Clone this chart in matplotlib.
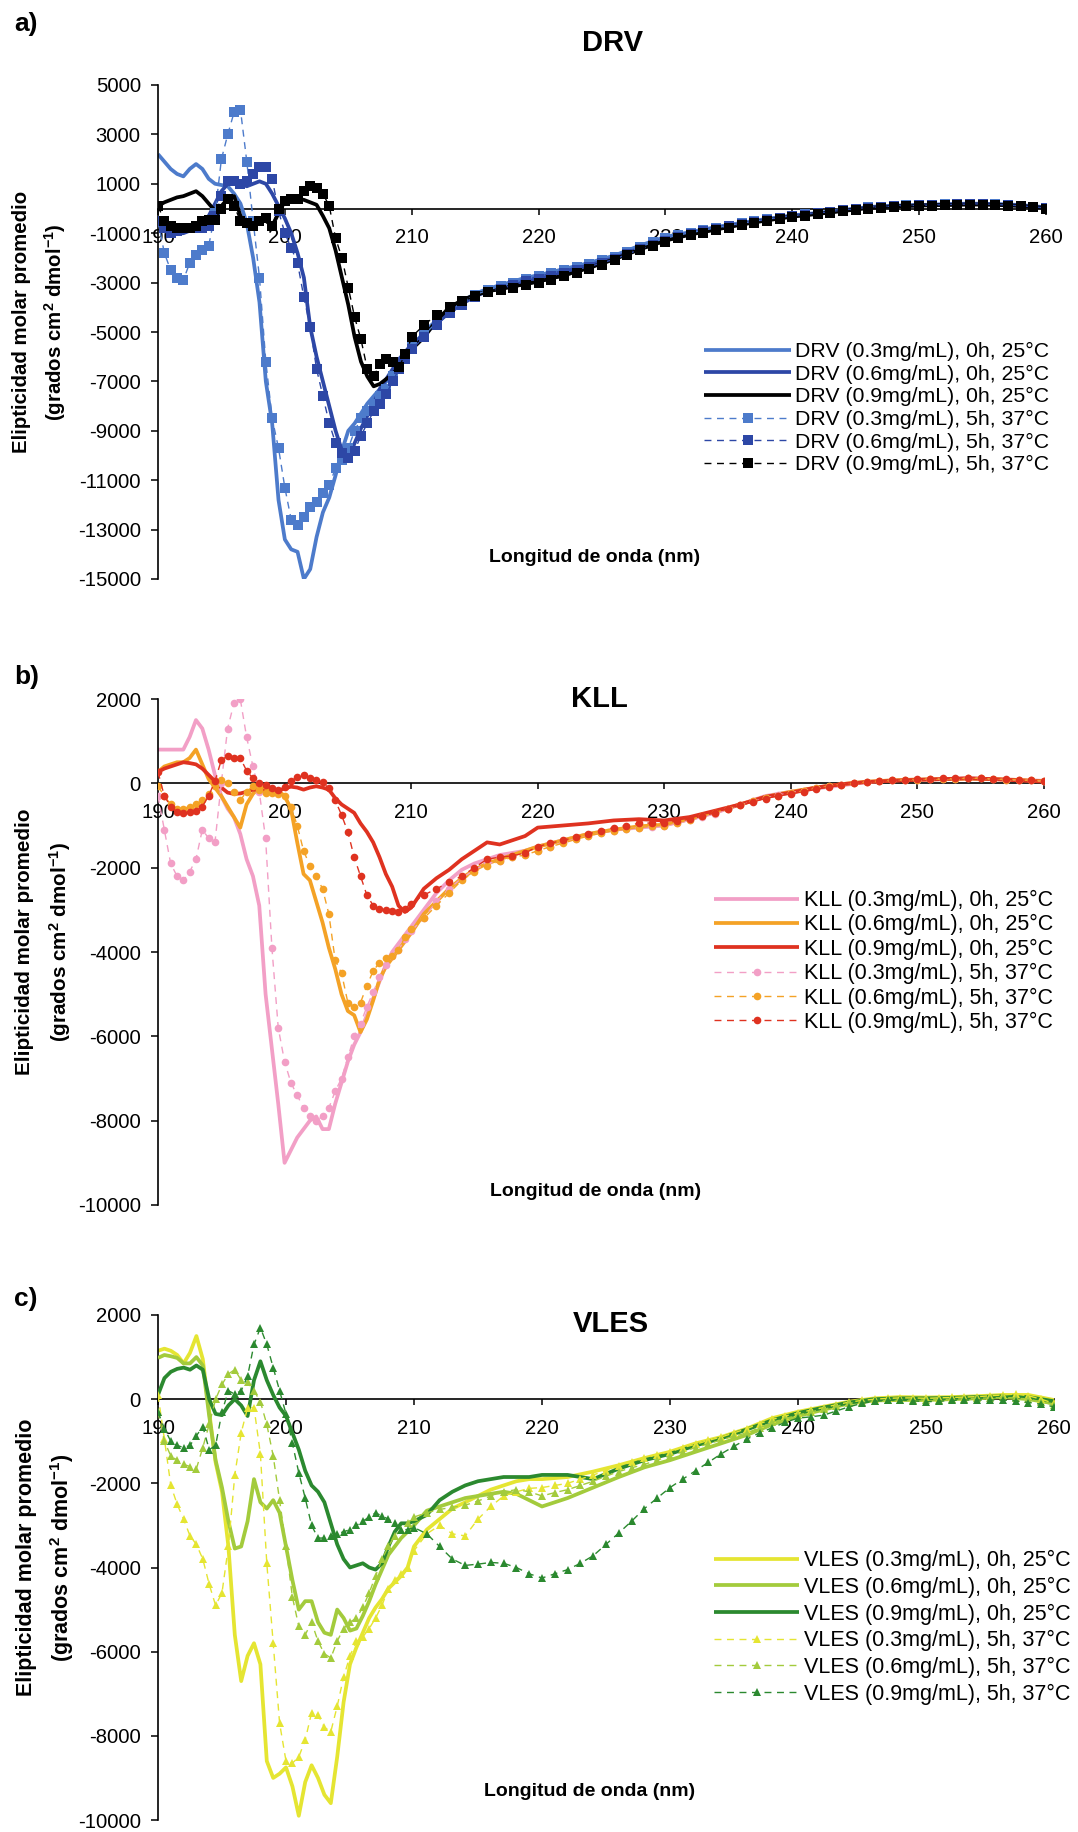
import matplotlib
matplotlib.use('Agg')
import matplotlib.pyplot as plt
import numpy as np

plt.rcParams['font.family'] = ['Liberation Sans', 'DejaVu Sans']
plt.rcParams['mathtext.fontset'] = 'custom'
plt.rcParams['mathtext.rm'] = 'Liberation Sans'
plt.rcParams['mathtext.bf'] = 'Liberation Sans:bold'
plt.rcParams['mathtext.default'] = 'bf'
plt.rcParams['axes.unicode_minus'] = False

# ---------------- data (ellipticity in units of 1000 grados cm2 dmol-1) ----------------
UNIT = 1000
# wavelengths of the 0h (solid) readings
wavelength_0h = [190, 190.5, 191, 191.5, 192, 192.5, 193, 193.5, 194, 194.5,
                 195, 195.5, 196, 196.5, 197, 197.5, 198, 198.5, 199, 199.5,
                 200, 200.5, 201, 201.5, 202, 202.5, 203, 203.5, 204, 204.5,
                 205, 205.5, 206, 206.5, 207, 207.5, 208, 208.5, 209, 209.5,
                 210,
                 211, 212, 213, 214, 215, 216, 217, 218, 219, 220,
                 222, 224, 226, 228, 230, 232, 234, 236, 238, 240,
                 242, 244, 246, 248, 250, 252, 254, 256, 258, 260]
# wavelengths of the 5h (dashed, with markers) readings
wavelength_5h = [190, 190.5, 191, 191.5, 192, 192.5, 193, 193.5, 194, 194.5,
                 195, 195.5, 196, 196.5, 197, 197.5, 198, 198.5, 199, 199.5,
                 200, 200.5, 201, 201.5, 202, 202.5, 203, 203.5, 204, 204.5,
                 205, 205.5, 206, 206.5, 207, 207.5, 208, 208.5, 209, 209.5,
                 210,
                 211, 212, 213, 214, 215, 216, 217, 218, 219, 220,
                 221, 222, 223, 224, 225, 226, 227, 228, 229, 230,
                 231, 232, 233, 234, 235, 236, 237, 238, 239, 240,
                 241, 242, 243, 244, 245, 246, 247, 248, 249, 250,
                 251, 252, 253, 254, 255, 256, 257, 258, 259, 260]

# DRV
drv_03_0h = [2.2, 1.9, 1.6, 1.4, 1.3, 1.6, 1.8, 1.6, 1.2, 1.0,
             0.95, 0.9, 0.6, 0.2, -0.6, -2.0, -3.8, -7.0, -8.7, -11.8,
             -13.4, -13.8, -13.9, -15.0, -14.6, -13.3, -12.3, -11.7, -10.8, -9.8,
             -9.0, -8.7, -8.3, -7.9, -7.6, -7.3, -7.0, -6.6, -6.3, -5.9,
             -5.6,
             -5.0, -4.5, -4.1, -3.75, -3.45, -3.25, -3.1, -2.95, -2.8, -2.7,
             -2.45, -2.2, -1.9, -1.5, -1.15, -0.95, -0.75, -0.58, -0.42, -0.28,
             -0.18, -0.06, 0.06, 0.12, 0.14, 0.17, 0.2, 0.18, 0.14, 0.05]
drv_06_0h = [-0.6, -0.9, -1.0, -1.0, -1.0, -0.9, -0.8, -0.6, -0.3, 0.2,
             0.7, 1.0, 1.1, 1.0, 0.9, 1.0, 1.1, 1.0, 0.6, 0.1,
             -0.4, -1.0, -1.8, -2.8, -4.8, -6.0, -7.0, -8.0, -9.0, -9.8,
             -10.1, -9.5, -8.9, -8.4, -7.9, -7.3, -6.9, -6.5, -6.1, -5.8,
             -5.5,
             -5.1, -4.6, -4.2, -3.85, -3.55, -3.35, -3.2, -3.05, -2.9, -2.8,
             -2.55, -2.3, -2.0, -1.6, -1.25, -1.0, -0.8, -0.62, -0.45, -0.3,
             -0.2, -0.08, 0.04, 0.1, 0.13, 0.16, 0.18, 0.17, 0.12, 0.02]
drv_09_0h = [0.1, 0.25, 0.35, 0.45, 0.5, 0.6, 0.7, 0.5, 0.2, -0.1,
             0.1, 0.4, 0.5, -0.3, -0.7, -0.6, -0.4, -0.5, -0.7, -0.2,
             0.3, 0.45, 0.4, 0.35, 0.25, 0.15, -0.3, -0.8, -1.7, -2.8,
             -3.9, -5.2, -6.2, -6.8, -7.2, -7.1, -6.9, -6.7, -6.4, -6.0,
             -5.7,
             -5.2, -4.5, -4.0, -3.7, -3.5, -3.35, -3.25, -3.15, -3.05, -2.95,
             -2.7, -2.4, -2.05, -1.65, -1.3, -1.05, -0.85, -0.65, -0.48, -0.33,
             -0.22, -0.1, 0.02, 0.08, 0.12, 0.14, 0.16, 0.15, 0.1, 0.02]
drv_03_5h = [-0.5, -1.8, -2.5, -2.8, -2.9, -2.2, -1.9, -1.7, -1.5, -0.2,
             2.0, 3.0, 3.9, 4.0, 1.9, -0.5, -2.8, -6.2, -8.5, -9.7,
             -11.3, -12.6, -12.8, -12.5, -12.1, -11.9, -11.5, -11.2, -10.5, -10.2,
             -9.7, -9.0, -8.5, -8.2, -7.9, -7.6, -7.3, -6.8, -6.4, -6.0,
             -5.6,
             -5.1, -4.6, -4.15, -3.8, -3.5, -3.3, -3.15, -3.0, -2.85, -2.75,
             -2.62, -2.5, -2.38, -2.25, -2.1, -1.95, -1.75, -1.55, -1.37, -1.2,
             -1.08, -0.98, -0.88, -0.78, -0.69, -0.6, -0.52, -0.44, -0.37, -0.3,
             -0.24, -0.19, -0.13, -0.07, -0.01, 0.05, 0.08, 0.11, 0.13, 0.14,
             0.15, 0.17, 0.18, 0.19, 0.2, 0.17, 0.15, 0.12, 0.08, 0.03]
drv_06_5h = [-0.5, -0.8, -1.0, -0.9, -0.8, -0.8, -0.8, -0.8, -0.7, -0.3,
             0.5, 1.1, 1.1, 1.0, 1.1, 1.4, 1.7, 1.7, 1.2, -0.1,
             -1.0, -1.6, -2.2, -3.6, -4.8, -6.5, -7.6, -8.7, -9.5, -9.9,
             -10.1, -9.8, -9.2, -8.7, -8.2, -7.9, -7.5, -7.0, -6.5, -6.1,
             -5.7,
             -5.2, -4.7, -4.25, -3.9, -3.6, -3.4, -3.25, -3.1, -2.95, -2.85,
             -2.72, -2.6, -2.48, -2.35, -2.2, -2.05, -1.85, -1.65, -1.47, -1.3,
             -1.15, -1.02, -0.92, -0.82, -0.72, -0.63, -0.54, -0.46, -0.38, -0.31,
             -0.25, -0.2, -0.14, -0.08, -0.02, 0.04, 0.07, 0.1, 0.12, 0.13,
             0.14, 0.16, 0.17, 0.18, 0.19, 0.16, 0.14, 0.11, 0.07, 0.02]
drv_09_5h = [0.1, -0.5, -0.7, -0.8, -0.8, -0.8, -0.7, -0.5, -0.45, -0.45,
             0.0, 0.4, 0.1, -0.5, -0.6, -0.7, -0.5, -0.4, -0.7, 0.0,
             0.3, 0.4, 0.4, 0.7, 0.9, 0.85, 0.6, 0.1, -1.2, -2.0,
             -3.2, -4.4, -5.3, -6.5, -6.8, -6.3, -6.1, -6.2, -6.4, -5.9,
             -5.2,
             -4.7, -4.3, -4.0, -3.75, -3.55, -3.4, -3.3, -3.2, -3.1, -3.0,
             -2.88, -2.75, -2.6, -2.45, -2.28, -2.1, -1.9, -1.7, -1.52, -1.35,
             -1.2, -1.08, -0.98, -0.88, -0.78, -0.68, -0.59, -0.5, -0.42, -0.35,
             -0.29, -0.24, -0.18, -0.12, -0.06, 0.0, 0.04, 0.07, 0.09, 0.11,
             0.12, 0.13, 0.14, 0.15, 0.16, 0.14, 0.12, 0.09, 0.05, 0.0]

# KLL
kll_03_0h = [0.8, 0.8, 0.8, 0.8, 0.8, 1.1, 1.5, 1.3, 0.8, 0.2,
             -0.3, -0.6, -0.8, -1.2, -1.8, -2.2, -2.9, -5.0, -6.3, -7.6,
             -9.0, -8.7, -8.4, -8.2, -8.0, -7.9, -8.2, -8.2, -7.6, -7.1,
             -6.6, -6.2, -5.9, -5.5, -5.1, -4.7, -4.3, -4.0, -3.8, -3.6,
             -3.4,
             -3.0, -2.6, -2.3, -2.05, -1.9, -1.8, -1.7, -1.65, -1.6, -1.5,
             -1.35, -1.2, -1.1, -1.05, -1.0, -0.85, -0.7, -0.5, -0.3, -0.2,
             -0.12, -0.05, 0.03, 0.07, 0.09, 0.1, 0.12, 0.1, 0.08, 0.06]
kll_06_0h = [0.27, 0.4, 0.45, 0.5, 0.5, 0.6, 0.8, 0.45, 0.1, -0.1,
             -0.3, -0.55, -0.8, -1.05, -0.5, -0.25, -0.1, -0.12, -0.15, -0.18,
             -0.3, -0.6, -1.4, -2.15, -2.3, -2.8, -3.3, -3.9, -4.4, -5.0,
             -5.4, -5.5, -5.9, -5.6, -5.15, -4.65, -4.35, -4.15, -3.95, -3.75,
             -3.55,
             -3.1, -2.8, -2.5, -2.25, -2.05, -1.9, -1.8, -1.7, -1.6, -1.5,
             -1.35, -1.2, -1.1, -1.02, -0.98, -0.85, -0.68, -0.5, -0.32, -0.2,
             -0.1, -0.02, 0.04, 0.07, 0.09, 0.1, 0.11, 0.1, 0.08, 0.05]
kll_09_0h = [0.27, 0.35, 0.4, 0.45, 0.5, 0.48, 0.45, 0.35, 0.2, 0.05,
             -0.1, -0.22, -0.25, -0.24, -0.2, -0.15, -0.15, -0.2, -0.24, -0.18,
             -0.12, -0.08, -0.1, -0.15, -0.1, -0.07, -0.1, -0.15, -0.35, -0.5,
             -0.6, -0.7, -0.95, -1.15, -1.4, -1.75, -2.15, -2.45, -2.9, -3.05,
             -2.95,
             -2.5, -2.25, -2.05, -1.8, -1.6, -1.4, -1.45, -1.35, -1.25, -1.05,
             -1.0, -0.95, -0.88, -0.85, -0.88, -0.8, -0.65, -0.5, -0.32, -0.22,
             -0.1, -0.02, 0.03, 0.06, 0.08, 0.1, 0.12, 0.1, 0.07, 0.04]
kll_03_5h = [-0.3, -1.1, -1.9, -2.2, -2.3, -2.1, -1.8, -1.1, -1.3, -1.4,
             0.0, 1.3, 1.9, 2.0, 1.1, 0.4, -0.2, -1.3, -3.9, -5.8,
             -6.6, -7.1, -7.4, -7.7, -7.9, -8.0, -7.9, -7.7, -7.3, -7.0,
             -6.5, -6.0, -5.7, -5.3, -4.95, -4.6, -4.3, -4.1, -3.95, -3.7,
             -3.5,
             -3.2, -2.8, -2.5, -2.25, -2.05, -1.9, -1.85, -1.75, -1.7, -1.6,
             -1.5, -1.4, -1.32, -1.25, -1.18, -1.12, -1.08, -1.05, -1.03, -1.02,
             -0.95, -0.88, -0.8, -0.72, -0.62, -0.52, -0.43, -0.35, -0.28, -0.22,
             -0.17, -0.12, -0.07, -0.03, 0.0, 0.03, 0.05, 0.07, 0.08, 0.09,
             0.1, 0.1, 0.11, 0.12, 0.12, 0.1, 0.09, 0.08, 0.07, 0.05]
kll_06_5h = [-0.07, -0.3, -0.5, -0.6, -0.6, -0.55, -0.5, -0.4, -0.25, -0.07,
             0.08, 0.0, -0.2, -0.4, -0.2, -0.07, -0.15, -0.24, -0.24, -0.26,
             -0.3, -0.55, -1.0, -1.6, -1.95, -2.2, -2.5, -3.1, -4.2, -4.5,
             -5.2, -5.3, -5.2, -4.8, -4.45, -4.25, -4.15, -4.1, -3.95, -3.65,
             -3.45,
             -3.2, -2.9, -2.6, -2.3, -2.1, -1.95, -1.85, -1.75, -1.7, -1.6,
             -1.5, -1.42, -1.33, -1.25, -1.18, -1.12, -1.08, -1.05, -1.02, -1.0,
             -0.93, -0.87, -0.78, -0.7, -0.6, -0.52, -0.43, -0.35, -0.29, -0.24,
             -0.18, -0.12, -0.07, -0.03, 0.0, 0.03, 0.05, 0.07, 0.08, 0.09,
             0.1, 0.1, 0.11, 0.12, 0.12, 0.1, 0.09, 0.08, 0.07, 0.05]
kll_09_5h = [0.27, -0.3, -0.55, -0.68, -0.7, -0.68, -0.65, -0.55, -0.3, 0.05,
             0.55, 0.65, 0.6, 0.6, 0.3, 0.12, 0.0, -0.05, -0.12, -0.15,
             -0.08, 0.05, 0.15, 0.2, 0.12, 0.07, 0.02, -0.12, -0.4, -0.75,
             -1.15, -1.75, -2.2, -2.65, -2.9, -2.98, -3.0, -3.02, -3.05, -2.97,
             -2.85,
             -2.65, -2.5, -2.35, -2.2, -2.0, -1.8, -1.75, -1.72, -1.65, -1.5,
             -1.42, -1.35, -1.28, -1.2, -1.12, -1.05, -1.0, -0.95, -0.94, -0.93,
             -0.9, -0.85, -0.78, -0.7, -0.6, -0.52, -0.44, -0.36, -0.3, -0.25,
             -0.2, -0.14, -0.09, -0.04, 0.0, 0.03, 0.05, 0.07, 0.09, 0.1,
             0.11, 0.12, 0.12, 0.13, 0.13, 0.11, 0.1, 0.08, 0.07, 0.05]

# VLES
vles_03_0h = [1.15, 1.2, 1.15, 1.05, 0.85, 1.1, 1.5, 0.95, -0.3, -1.5,
              -2.2, -3.5, -5.6, -6.7, -6.1, -5.8, -6.3, -8.6, -9.0, -8.9,
              -8.75, -9.2, -9.9, -9.1, -8.7, -9.0, -9.4, -9.6, -8.5, -7.2,
              -6.3, -5.9, -5.55, -5.2, -4.95, -4.75, -4.5, -4.35, -4.2, -4.0,
              -3.5,
              -3.1, -2.85, -2.6, -2.45, -2.3, -2.15, -2.05, -1.95, -1.9, -1.9,
              -1.85, -1.72, -1.57, -1.4, -1.25, -1.05, -0.9, -0.7, -0.45, -0.3,
              -0.18, -0.06, 0.02, 0.05, 0.04, 0.05, 0.07, 0.1, 0.1, -0.02]
vles_06_0h = [0.98, 1.05, 1.02, 0.98, 0.85, 0.85, 1.0, 0.8, -0.4, -1.45,
              -2.1, -2.9, -3.55, -3.5, -2.9, -1.9, -2.45, -2.6, -2.4, -2.7,
              -3.5, -4.3, -5.0, -4.8, -4.8, -5.3, -5.55, -5.6, -5.0, -5.2,
              -5.5, -5.45, -5.15, -4.8, -4.4, -4.05, -3.7, -3.5, -3.3, -3.15,
              -3.0,
              -2.65, -2.55, -2.45, -2.35, -2.3, -2.25, -2.2, -2.25, -2.4, -2.55,
              -2.35, -2.1, -1.85, -1.62, -1.45, -1.25, -1.05, -0.85, -0.6, -0.4,
              -0.25, -0.1, -0.03, -0.02, -0.02, 0.0, 0.02, 0.05, 0.0, -0.1]
vles_09_0h = [0.1, 0.5, 0.65, 0.72, 0.75, 0.7, 0.8, 0.7, 0.0, -0.35,
              -0.38, -0.15, 0.0, -0.15, -0.4, 0.45, 0.9, 0.45, 0.1, -0.2,
              -0.4, -0.8, -1.2, -1.7, -2.05, -2.2, -2.45, -2.95, -3.45, -3.8,
              -4.0, -3.95, -3.9, -4.0, -4.05, -3.9, -3.5, -3.15, -2.95, -2.95,
              -2.9,
              -2.75, -2.4, -2.2, -2.05, -1.95, -1.9, -1.85, -1.85, -1.85, -1.8,
              -1.8, -1.9, -1.65, -1.45, -1.3, -1.1, -0.93, -0.72, -0.5, -0.33,
              -0.2, -0.08, 0.0, 0.02, 0.02, 0.03, 0.05, 0.07, 0.05, -0.05]
vles_03_5h = [0.1, -0.95, -2.05, -2.5, -2.85, -3.25, -3.45, -3.8, -4.4, -4.9,
              -4.6, -3.5, -1.8, -0.8, -0.2, -0.2, -1.3, -3.9, -5.8, -7.7,
              -8.6, -8.65, -8.5, -8.1, -7.45, -7.5, -7.8, -7.9, -7.3, -6.6,
              -6.1, -5.75, -5.65, -5.45, -5.2, -4.9, -4.5, -4.3, -4.15, -4.0,
              -3.6,
              -3.2, -3.0, -3.2, -3.25, -2.85, -2.55, -2.3, -2.2, -2.12, -2.1,
              -2.05, -2.0, -1.9, -1.8, -1.7, -1.58, -1.5, -1.4, -1.32, -1.25,
              -1.15, -1.07, -0.98, -0.9, -0.8, -0.7, -0.58, -0.48, -0.4, -0.33,
              -0.26, -0.2, -0.13, -0.07, -0.03, 0.0, 0.02, 0.03, 0.03, 0.02,
              0.03, 0.04, 0.05, 0.06, 0.08, 0.1, 0.12, 0.08, 0.0, -0.1]
vles_06_5h = [-0.3, -1.0, -1.35, -1.45, -1.55, -1.6, -1.65, -1.15, -0.6, 0.0,
              0.35, 0.6, 0.7, 0.45, 0.4, 0.2, -0.06, -0.6, -1.35, -2.4,
              -3.5, -4.7, -5.4, -5.6, -5.3, -5.75, -6.05, -6.15, -5.75, -5.45,
              -5.3, -5.2, -4.95, -4.6, -4.2, -3.8, -3.5, -3.25, -3.1, -2.95,
              -2.8,
              -2.7, -2.62, -2.57, -2.52, -2.42, -2.3, -2.2, -2.15, -2.2, -2.3,
              -2.22, -2.15, -2.05, -1.95, -1.83, -1.72, -1.63, -1.55, -1.45, -1.35,
              -1.25, -1.15, -1.06, -0.97, -0.88, -0.8, -0.68, -0.55, -0.46, -0.38,
              -0.3, -0.24, -0.17, -0.1, -0.06, -0.04, -0.03, -0.02, -0.02, -0.02,
              -0.01, 0.0, 0.01, 0.02, 0.03, 0.04, 0.03, 0.0, -0.06, -0.14]
vles_09_5h = [-0.3, -0.7, -1.0, -1.1, -1.15, -1.1, -0.87, -0.65, -1.2, -1.1,
              -0.3, 0.2, 0.12, 0.2, 0.55, 1.3, 1.7, 1.3, 0.75, 0.2,
              -0.35, -1.05, -1.75, -2.35, -3.0, -3.3, -3.3, -3.25, -3.2, -3.15,
              -3.1, -3.0, -2.9, -2.8, -2.7, -2.78, -2.85, -2.95, -3.1, -3.1,
              -3.05,
              -3.2, -3.5, -3.8, -3.95, -3.92, -3.88, -3.9, -4.0, -4.15, -4.25,
              -4.15, -4.05, -3.9, -3.72, -3.45, -3.18, -2.9, -2.6, -2.35, -2.1,
              -1.9, -1.7, -1.5, -1.3, -1.12, -0.95, -0.8, -0.68, -0.55, -0.45,
              -0.42, -0.38, -0.28, -0.18, -0.1, -0.05, -0.03, -0.02, -0.04, -0.06,
              -0.05, -0.03, -0.02, -0.02, -0.02, -0.02, -0.04, -0.08, -0.12, -0.18]

conditions = ['(0.3mg/mL), 0h, 25\u00b0C', '(0.6mg/mL), 0h, 25\u00b0C', '(0.9mg/mL), 0h, 25\u00b0C',
              '(0.3mg/mL), 5h, 37\u00b0C', '(0.6mg/mL), 5h, 37\u00b0C', '(0.9mg/mL), 5h, 37\u00b0C']
x_ticks = [190, 200, 210, 220, 230, 240, 250, 260]

panels = [
    dict(name='DRV', letter='a)',
         series=[drv_03_0h, drv_06_0h, drv_09_0h, drv_03_5h, drv_06_5h, drv_09_5h],
         colors=['#4d7bcb', '#2d47a6', '#000000'], marker='s', ms=6.5,
         ylim=(-15000, 5000), yticks=list(range(-15000, 5001, 2000)),
         box=(158, 1046, 85, 579), title_xy=(613, 51), letter_xy=(14, 31),
         xlabel_xy=(595, 562), ylabel_x=(22, 55), ylabel_fs=14.7,
         leg_xy=(704, 342), leg_fs=15.3, leg_ls=0.17, leg_hl=4.1, leg_pad=0.2),
    dict(name='KLL', letter='b)',
         series=[kll_03_0h, kll_06_0h, kll_09_0h, kll_03_5h, kll_06_5h, kll_09_5h],
         colors=['#f29fc6', '#f4a226', '#df3220'], marker='o', ms=5.5,
         ylim=(-10000, 2000), yticks=list(range(-10000, 2001, 2000)),
         box=(158, 1044, 699, 1205), title_xy=(599, 707), letter_xy=(14, 684),
         xlabel_xy=(596, 1196), ylabel_x=(25, 60), ylabel_fs=14.9,
         leg_xy=(714, 890), leg_fs=15.5, leg_ls=0.15, leg_hl=3.95, leg_pad=0.25),
    dict(name='VLES', letter='c)',
         series=[vles_03_0h, vles_06_0h, vles_09_0h, vles_03_5h, vles_06_5h, vles_09_5h],
         colors=['#e5e532', '#a3cb3c', '#2b892f'], marker='^', ms=6,
         ylim=(-10000, 2000), yticks=list(range(-10000, 2001, 2000)),
         box=(158, 1054, 1315, 1820), title_xy=(611, 1332), letter_xy=(14, 1306),
         xlabel_xy=(590, 1796), ylabel_x=(27, 62), ylabel_fs=15.5,
         leg_xy=(714, 1550), leg_fs=15.5, leg_ls=0.26, leg_hl=3.95, leg_pad=0.25),
]

W, H = 1078, 1832
fig = plt.figure(figsize=(W / 100, H / 100), dpi=100)
fig.patch.set_facecolor('white')

wl0 = np.array(wavelength_0h)
wl5 = np.array(wavelength_5h)
for p in panels:
    l, r, t, b = p['box']
    ax = fig.add_axes([l / W, 1 - b / H, (r - l) / W, (b - t) / H])
    ax.set_facecolor('none')
    handles = []
    for i, vals in enumerate(p['series']):
        y = np.array(vals) * UNIT
        col = p['colors'][i % 3]
        lab = p['name'] + ' ' + conditions[i]
        if i < 3:
            h, = ax.plot(wl0, y, color=col, lw=2.7, solid_capstyle='butt', label=lab, zorder=2 + i)
        else:
            h, = ax.plot(wl5, y, color=col, lw=1.0, linestyle=(0, (5, 4)), marker=p['marker'],
                         ms=p['ms'], mec=col, mew=0, label=lab, zorder=5 + i)
        handles.append(h)
    ax.set_xlim(190, 260)
    ax.set_ylim(*p['ylim'])
    ax.set_xticks(x_ticks)
    ax.set_xticklabels([str(v) for v in x_ticks])
    ax.set_yticks(p['yticks'])
    ax.set_yticklabels([str(v) for v in p['yticks']])
    for s in ('top', 'right'):
        ax.spines[s].set_visible(False)
    ax.spines['bottom'].set_position(('data', 0))
    ax.spines['bottom'].set_linewidth(1.2)
    ax.spines['left'].set_linewidth(1.2)
    ax.spines['bottom'].set_zorder(1)
    ax.tick_params(axis='x', direction='out', length=4, width=1.1, pad=10, labelsize=14.6)
    ax.tick_params(axis='y', direction='out', length=5.4, width=1.1, pad=7, labelsize=14.6)

    ax.legend(handles=handles, loc='upper left',
              bbox_to_anchor=(p['leg_xy'][0] / W, 1 - p['leg_xy'][1] / H),
              bbox_transform=fig.transFigure, frameon=False, borderpad=0,
              borderaxespad=0, fontsize=p['leg_fs'], labelspacing=p['leg_ls'],
              handlelength=p['leg_hl'], handletextpad=p['leg_pad'], numpoints=1)

    fig.text(p['title_xy'][0] / W, 1 - p['title_xy'][1] / H, p['name'], fontsize=21,
             fontweight='bold', ha='center', va='baseline')
    fig.text(p['letter_xy'][0] / W, 1 - p['letter_xy'][1] / H, p['letter'], fontsize=19,
             fontweight='bold', ha='left', va='baseline')
    fig.text(p['xlabel_xy'][0] / W, 1 - p['xlabel_xy'][1] / H, 'Longitud de onda (nm)',
             fontsize=14, fontweight='bold', ha='center', va='baseline')
    yc = 1 - ((t + b) / 2 - 10) / H
    fig.text(p['ylabel_x'][0] / W, yc, 'Elipticidad molar promedio', rotation=90,
             fontsize=p['ylabel_fs'], fontweight='bold', ha='center', va='center')
    fig.text(p['ylabel_x'][1] / W, yc, r'(grados cm$^{2}$ dmol$^{-1}$)', rotation=90,
             fontsize=p['ylabel_fs'], fontweight='bold', ha='center', va='center')

fig.savefig('out.png', dpi=100, facecolor='white')
